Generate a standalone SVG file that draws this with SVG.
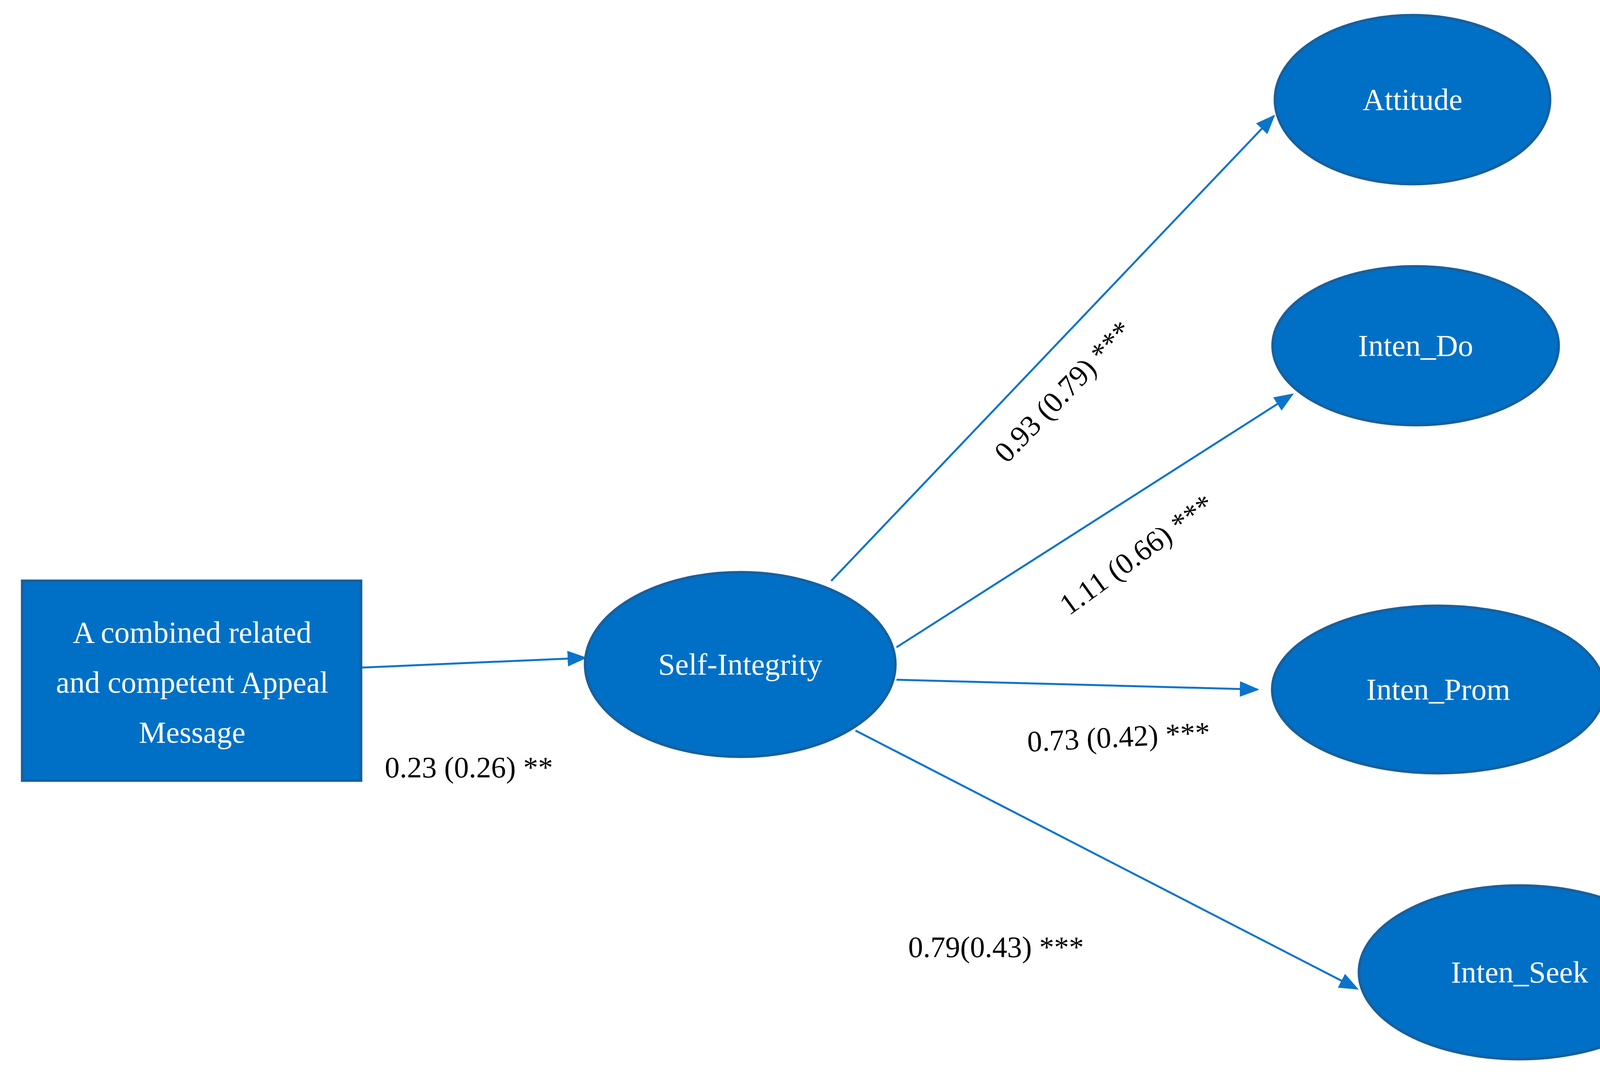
<svg xmlns="http://www.w3.org/2000/svg" width="4351" height="2780" viewBox="0 0 4351 2780">
<style>
.n{fill:#0070c6;stroke:#17609f;stroke-width:7}
.t{font-family:"Liberation Serif",serif;font-size:78px;fill:#fff;text-anchor:middle}
.l{font-family:"Liberation Serif",serif;font-size:76px;fill:#000}
.c{stroke:#0a74cc;stroke-width:5;fill:none;marker-end:url(#a)}
</style>
<defs><marker id="a" markerWidth="10" markerHeight="8" refX="9" refY="4" orient="auto" markerUnits="strokeWidth" viewBox="0 0 10 8"><path d="M0,0L10,4L0,8z" fill="#0a74cc"/></marker></defs>
<rect width="4351" height="2780" fill="#fff"/>
<g id="connectors">
<path class="c" d="M924,1709L1498,1684"/>
<path class="c" d="M2128,1487L3261,297"/>
<path class="c" d="M2295,1657L3308,1010"/>
<path class="c" d="M2295,1740L3219,1765"/>
<path class="c" d="M2190,1870L3474,2531"/>
</g>
<g id="msg"><rect class="n" x="57" y="1487" width="867" height="511"/>
<text class="t" x="492" y="1645">A combined related</text>
<text class="t" x="492" y="1773">and competent Appeal</text>
<text class="t" x="492" y="1901">Message</text></g>
<g id="si"><ellipse class="n" cx="1895" cy="1701" rx="397" ry="236"/><text class="t" x="1895" y="1727">Self-Integrity</text></g>
<g id="att"><ellipse class="n" cx="3616" cy="255" rx="352" ry="216"/><text class="t" x="3616" y="281">Attitude</text></g>
<g id="do"><ellipse class="n" cx="3624" cy="885" rx="366" ry="203"/><text class="t" x="3624" y="911">Inten_Do</text></g>
<g id="prom"><ellipse class="n" cx="3682" cy="1765" rx="425" ry="214"/><text class="t" x="3682" y="1791">Inten_Prom</text></g>
<g id="seek"><ellipse class="n" cx="3890" cy="2489" rx="411" ry="222"/><text class="t" x="3890" y="2515">Inten_Seek</text></g>
<g id="labels">
<text class="l" x="985" y="1990">0.23 (0.26) **</text>
<text class="l" text-anchor="middle" transform="translate(2740,1020) rotate(-46)">0.93 (0.79) ***</text>
<text class="l" text-anchor="middle" transform="translate(2925,1440) rotate(-36)">1.11 (0.66) ***</text>
<text class="l" text-anchor="middle" transform="translate(2865,1912) rotate(-3)">0.73 (0.42) ***</text>
<text class="l" x="2325" y="2450">0.79(0.43) ***</text>
</g>
</svg>
